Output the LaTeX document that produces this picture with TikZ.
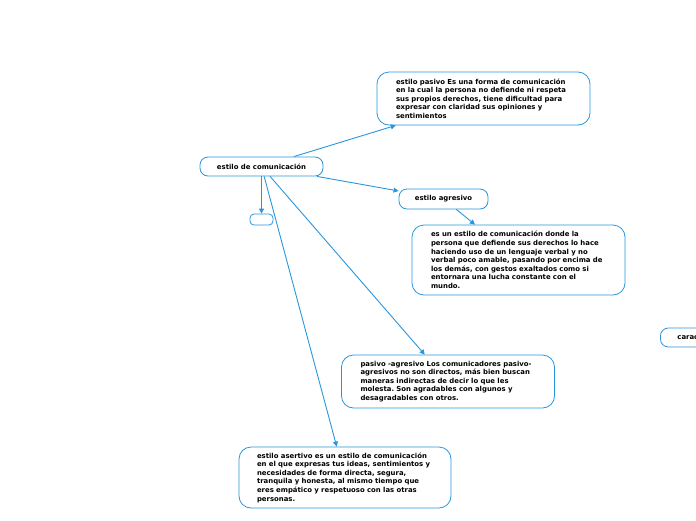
\documentclass[tikz,border=0pt]{standalone}
\usepackage{fontspec}
\setmainfont{DejaVu Sans}
\usetikzlibrary{arrows.meta}
\definecolor{lineblue}{RGB}{40,150,222}
\begin{document}
\frenchspacing
\begin{tikzpicture}[x=1pt,y=-1pt,
  txt/.style={font=\fontsize{6.9}{8.6}\selectfont\bfseries},
  bigbox/.style={txt, draw=lineblue, line width=0.8pt, rounded corners=12pt, fill=white,
    align=left, inner xsep=19pt, inner ysep=0pt, text width=175pt},
  smallbox/.style={txt, draw=lineblue, line width=0.8pt, rounded corners=8pt, fill=white,
    align=center, inner sep=0pt},
  conn/.style={draw=lineblue, line width=0.9pt, -{Triangle[length=5pt,width=5pt]}}
]
\useasboundingbox (0,0) rectangle (696,520);
\clip (0,0) rectangle (696,520);

\node[smallbox, minimum width=123pt, minimum height=19pt] (c) at (261.5,166.5) {estilo de comunicación};

\node[bigbox, minimum height=53pt] (pas) at (483.5,98.5)
 {estilo pasivo Es una forma de comunicación\\en la cual la persona no defiende ni respeta\\sus propios derechos, tiene dificultad para\\expresar con claridad sus opiniones y\\sentimientos};

\node[smallbox, minimum width=89pt, minimum height=20pt] (agr) at (443.5,199) {estilo agresivo};

\node[smallbox, rounded corners=4pt, minimum width=23pt, minimum height=11pt] (emp) at (261.5,219.5) {};

\node[bigbox, minimum height=70pt] (agrd) at (518.5,260)
 {es un estilo de comunicación donde la\\persona que defiende sus derechos lo hace\\haciendo uso de un lenguaje verbal y no\\verbal poco amable, pasando por encima de\\los demás, con gestos exaltados como si\\entornara una lucha constante con el\\mundo.};

\node[bigbox, minimum height=53pt] (pag) at (448,381.5)
 {pasivo -agresivo Los comunicadores pasivo-\\agresivos no son directos, más bien buscan\\maneras indirectas de decir lo que les\\molesta. Son agradables con algunos y\\desagradables con otros.};

\node[bigbox, minimum height=61pt, inner xsep=18pt, text width=176pt] (ase) at (345,477.5)
 {estilo asertivo es un estilo de comunicación\\en el que expresas tus ideas, sentimientos y\\necesidades de forma directa, segura,\\tranquila y honesta, al mismo tiempo que\\eres empático y respetuoso con las otras\\personas.};

\node[smallbox, anchor=west, align=left, minimum height=19pt, inner xsep=17pt, text width=86pt] (car) at (660,337.5) {carac};

\draw[conn] (c) -- (pas);
\draw[conn] (c) -- (agr);
\draw[conn] (c) -- (emp);
\draw[conn] (c) -- (pag);
\draw[conn] (c) -- (ase);
\draw[conn] (agr) -- (agrd);
\end{tikzpicture}
\end{document}
